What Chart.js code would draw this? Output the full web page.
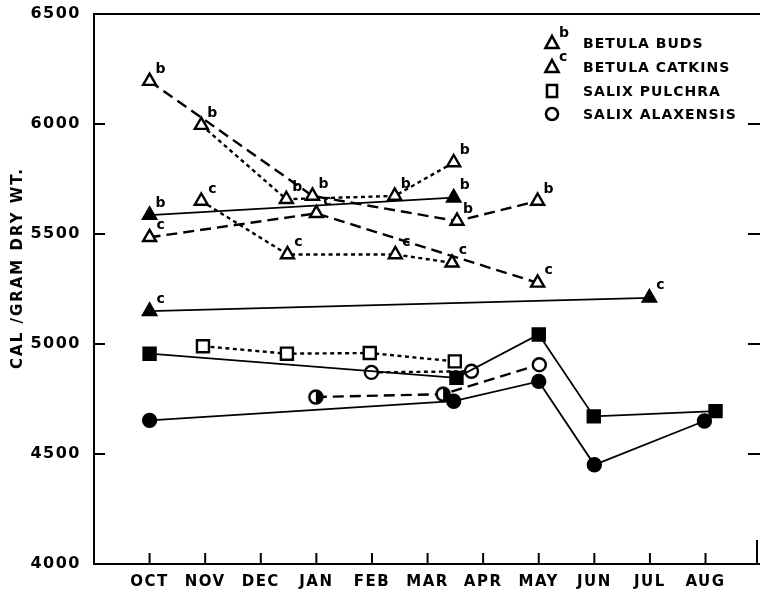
<!DOCTYPE html>
<html>
<head>
<meta charset="utf-8">
<script src="https://cdn.jsdelivr.net/npm/chart.js@4"></script>
<style>
  html, body { margin: 0; padding: 0; background: #fff; }
  #wrap { width: 760px; height: 592px; }
</style>
</head>
<body>
<div id="wrap"><canvas id="grafico" width="760" height="592"></canvas></div>
<script>
// meses (posición 0 = OCT) y ticks del eje Y
const months = ['OCT', 'NOV', 'DEC', 'JAN', 'FEB', 'MAR', 'APR', 'MAY', 'JUN', 'JUL', 'AUG'];
const yTicks = [4000, 4500, 5000, 5500, 6000, 6500];

// Betula buds (b)
const budsSolidX = [0, 5.47];
const budsSolidY = [5586, 5665];
const budsDashedX = [0, 2.93, 5.53, 6.98];
const budsDashedY = [6195, 5673, 5559, 5650];
const budsDottedX = [0.93, 2.46, 4.41, 5.47];
const budsDottedY = [5995, 5658, 5673, 5825];

// Betula catkins (c)
const catSolidX = [0, 8.99];
const catSolidY = [5149, 5210];
const catDashedX = [0, 3.0, 6.98];
const catDashedY = [5485, 5594, 5278];
const catDottedX = [0.93, 2.48, 4.42, 5.44];
const catDottedY = [5650, 5407, 5407, 5369];

// Salix pulchra
const pulSolidX = [0, 5.52, 7.0, 7.99, 10.18];
const pulSolidY = [4956, 4846, 5043, 4671, 4695];
const pulDottedX = [0.96, 2.47, 3.96, 5.49];
const pulDottedY = [4990, 4956, 4959, 4921];

// Salix alaxensis
const alaSolidX = [0, 5.47, 7.0, 8.0, 9.98];
const alaSolidY = [4653, 4740, 4830, 4451, 4650];
const alaDashedX = [2.99, 5.28, 7.01];
const alaDashedY = [4759, 4772, 4906];
const alaDottedX = [3.99, 5.79];
const alaDottedY = [4871, 4876];

const FONT = '"DejaVu Sans", sans-serif';
const DASH = [11, 6];
const DOT = [4, 3.5];

// círculo medio relleno
const medio = document.createElement('canvas');
medio.width = 18; medio.height = 18;
(function () {
    const c = medio.getContext('2d');
    c.fillStyle = '#fff';
    c.beginPath(); c.arc(9, 9, 6.5, 0, Math.PI * 2); c.fill();
    c.fillStyle = '#000';
    c.beginPath(); c.arc(9, 9, 6.5, -Math.PI / 2, Math.PI / 2); c.closePath(); c.fill();
    c.lineWidth = 2.5; c.strokeStyle = '#000';
    c.beginPath(); c.arc(9, 9, 6.5, 0, Math.PI * 2); c.stroke();
})();

function serie(xs, ys, marker, filled, dash, sup) {
    const radio = marker === 'rect' ? 8.5 : (marker === 'triangle' ? 7.5 : 6.5);
    return {
        data: xs.map((x, i) => ({ x: x, y: ys[i] })),
        showLine: true,
        borderColor: '#000',
        borderWidth: dash ? 2.4 : 1.8,
        borderDash: dash || [],
        pointStyle: marker,
        pointRadius: radio,
        pointBorderWidth: 2.4,
        pointBorderColor: '#000',
        pointBackgroundColor: filled ? '#000' : '#fff',
        sup: sup
    };
}

const alaDashed = serie(alaDashedX, alaDashedY, 'circle', false, DASH);
alaDashed.pointStyle = [medio, medio, 'circle'];

const datasets = [
    serie(budsSolidX, budsSolidY, 'triangle', true, null, 'b'),
    serie(budsDashedX, budsDashedY, 'triangle', false, DASH, 'b'),
    serie(budsDottedX, budsDottedY, 'triangle', false, DOT, 'b'),
    serie(catSolidX, catSolidY, 'triangle', true, null, 'c'),
    serie(catDashedX, catDashedY, 'triangle', false, DASH, 'c'),
    serie(catDottedX, catDottedY, 'triangle', false, DOT, 'c'),
    serie(pulSolidX, pulSolidY, 'rect', true, null),
    serie(pulDottedX, pulDottedY, 'rect', false, DOT),
    serie(alaSolidX, alaSolidY, 'circle', true, null),
    alaDashed,
    serie(alaDottedX, alaDottedY, 'circle', false, DOT)
];

// marco, ticks interiores, superíndices, título Y y leyenda
const extras = {
    id: 'extras',
    afterLayout(chart) {
        // el área llega hasta el borde derecho, como en el original
        const sx = chart.scales.x;
        sx.right = chart.width;
        sx.width = sx.right - sx.left;
        sx.configure();
        chart.chartArea.right = chart.width;
        chart.chartArea.width = chart.width - chart.chartArea.left;
    },
    beforeDraw(chart) {
        chart.ctx.letterSpacing = '1.5px';   // rótulos anchos como en el original
    },
    afterDatasetsDraw(chart) {
        const ctx = chart.ctx;
        const a = chart.chartArea;
        const sx = chart.scales.x, sy = chart.scales.y;
        ctx.save();
        ctx.strokeStyle = '#000';
        ctx.lineWidth = 2;
        ctx.beginPath();
        ctx.moveTo(a.left, a.top); ctx.lineTo(a.right, a.top);
        ctx.moveTo(a.left, a.top - 1); ctx.lineTo(a.left, a.bottom + 1);
        ctx.moveTo(a.left - 1, a.bottom); ctx.lineTo(a.right, a.bottom);
        ctx.moveTo(a.right - 3, a.bottom - 24); ctx.lineTo(a.right - 3, a.bottom);
        months.forEach((m, i) => {
            const px = sx.getPixelForValue(i);
            ctx.moveTo(px, a.bottom); ctx.lineTo(px, a.bottom - 11);
        });
        yTicks.slice(1, -1).forEach(v => {
            const py = sy.getPixelForValue(v);
            ctx.moveTo(a.left, py); ctx.lineTo(a.left + 11, py);
            ctx.moveTo(a.right - 12, py); ctx.lineTo(a.right, py);
        });
        ctx.stroke();

        // superíndices b / c
        ctx.fillStyle = '#000';
        ctx.letterSpacing = '0px';
        ctx.font = 'bold 14px ' + FONT;
        ctx.textAlign = 'center';
        ctx.textBaseline = 'middle';
        chart.data.datasets.forEach((ds, i) => {
            if (!ds.sup) return;
            chart.getDatasetMeta(i).data.forEach(el => {
                ctx.fillText(ds.sup, el.x + 11, el.y - 12);
            });
        });

        // título del eje Y
        ctx.save();
        ctx.translate(18, 268);
        ctx.rotate(-Math.PI / 2);
        ctx.font = 'bold 15px ' + FONT;
        ctx.letterSpacing = '2px';
        ctx.fillText('CAL /GRAM DRY WT.', 0, 0);
        ctx.restore();

        // leyenda
        const filas = [
            { y: 43, m: 'triangle', sup: 'b', t: 'BETULA BUDS' },
            { y: 67, m: 'triangle', sup: 'c', t: 'BETULA CATKINS' },
            { y: 91, m: 'rect', t: 'SALIX PULCHRA' },
            { y: 114, m: 'circle', t: 'SALIX ALAXENSIS' }
        ];
        const lx = 552;
        filas.forEach(f => {
            ctx.lineWidth = 2.6;
            ctx.fillStyle = '#fff';
            ctx.beginPath();
            if (f.m === 'triangle') {
                ctx.moveTo(lx, f.y - 7); ctx.lineTo(lx + 6.5, f.y + 5); ctx.lineTo(lx - 6.5, f.y + 5); ctx.closePath();
            } else if (f.m === 'rect') {
                ctx.rect(lx - 5, f.y - 6, 10, 12);
            } else {
                ctx.arc(lx, f.y, 6, 0, Math.PI * 2);
            }
            ctx.fill(); ctx.stroke();
            ctx.fillStyle = '#000';
            ctx.textAlign = 'left';
            ctx.font = 'bold 14px ' + FONT;
            ctx.letterSpacing = '0px';
            if (f.sup) ctx.fillText(f.sup, lx + 7, f.y - 10);
            ctx.letterSpacing = '1px';
            ctx.fillText(f.t, 583, f.y + 1);
        });
        ctx.restore();
    }
};

new Chart(document.getElementById('grafico'), {
    type: 'scatter',
    data: { datasets: datasets },
    options: {
        responsive: false,
        animation: false,
        layout: { padding: { top: 14, right: 0, left: 0, bottom: 0 } },
        plugins: { legend: { display: false }, tooltip: { enabled: false } },
        scales: {
            x: {
                type: 'linear',
                min: -1,
                max: 10.98,
                afterBuildTicks: s => { s.ticks = months.map((m, i) => ({ value: i })); },
                afterFit: s => { s.height = 28; s.paddingLeft = 0; s.paddingRight = 0; },
                grid: { display: false },
                border: { display: false },
                ticks: {
                    autoSkip: false,
                    maxRotation: 0,
                    padding: 1,
                    color: '#000',
                    font: { family: FONT, size: 15, weight: 'bold' },
                    callback: v => months[v]
                }
            },
            y: {
                min: 4000,
                max: 6500,
                afterBuildTicks: s => { s.ticks = yTicks.map(v => ({ value: v })); },
                afterFit: s => { s.width = 94; s.paddingTop = 0; s.paddingBottom = 0; },
                grid: { display: false },
                border: { display: false },
                ticks: {
                    padding: 5,
                    color: '#000',
                    font: { family: FONT, size: 16, weight: 'bold' },
                    callback: v => String(v)
                }
            }
        }
    },
    plugins: [extras]
});
</script>
</body>
</html>
